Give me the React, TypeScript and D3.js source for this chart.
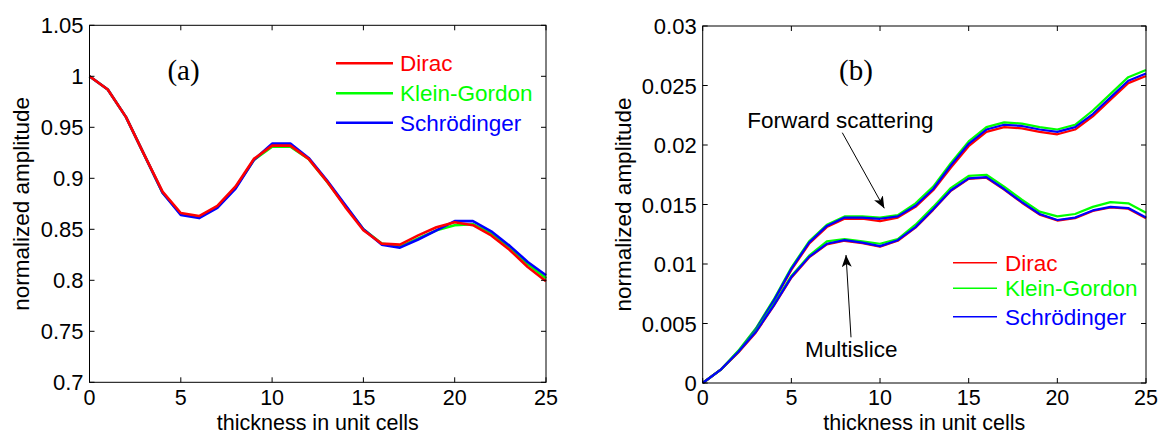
import React, { useEffect, useRef } from "react";
import * as d3 from "d3";

// thickness in unit cells (x)
const thickness = d3.range(0, 26);

// panel (a): normalized amplitude
const diracA = [1.0, 0.987, 0.96, 0.923, 0.887, 0.866, 0.863, 0.873, 0.892, 0.919, 0.932, 0.932, 0.919, 0.897, 0.872, 0.849, 0.836, 0.835, 0.844, 0.852, 0.857, 0.854, 0.844, 0.83, 0.813, 0.799];
const kleinA = [1.0, 0.987, 0.96, 0.923, 0.886, 0.865, 0.862, 0.872, 0.891, 0.918, 0.931, 0.931, 0.919, 0.897, 0.873, 0.85, 0.836, 0.833, 0.841, 0.849, 0.854, 0.855, 0.846, 0.832, 0.816, 0.802];
const schrA = [1.0, 0.987, 0.96, 0.923, 0.886, 0.864, 0.861, 0.871, 0.89, 0.918, 0.934, 0.934, 0.92, 0.898, 0.874, 0.85, 0.835, 0.832, 0.84, 0.849, 0.858, 0.858, 0.848, 0.834, 0.818, 0.805];

// panel (b): forward scattering
const diracFwd = [0, 0.0011, 0.00263, 0.00445, 0.00683, 0.0095, 0.0117, 0.0131, 0.0138, 0.0138, 0.0136, 0.0139, 0.0148, 0.0162, 0.0181, 0.0199, 0.0211, 0.0215, 0.0214, 0.0211, 0.0209, 0.0213, 0.0224, 0.0238, 0.0252, 0.0258];
const kleinFwd = [0, 0.0011, 0.0027, 0.0046, 0.007, 0.0097, 0.0119, 0.0133, 0.014, 0.014, 0.0139, 0.0141, 0.0151, 0.0165, 0.0185, 0.0203, 0.0215, 0.0219, 0.0218, 0.0215, 0.0213, 0.0217, 0.0229, 0.0243, 0.0257, 0.0263];
const schrFwd = [0, 0.0011, 0.0026, 0.0045, 0.0069, 0.0096, 0.0118, 0.0132, 0.0139, 0.0139, 0.0138, 0.014, 0.0149, 0.0163, 0.0183, 0.0201, 0.0213, 0.0217, 0.0216, 0.0213, 0.0211, 0.0215, 0.0226, 0.024, 0.0254, 0.026];

// panel (b): multislice
const diracMs = [0, 0.0011, 0.00255, 0.00425, 0.00645, 0.00885, 0.01055, 0.01165, 0.01195, 0.01175, 0.01145, 0.01195, 0.01305, 0.01455, 0.01615, 0.01715, 0.01725, 0.01625, 0.01515, 0.01415, 0.01365, 0.01385, 0.01445, 0.01475, 0.01465, 0.01385];
const kleinMs = [0, 0.0011, 0.0026, 0.0044, 0.0066, 0.009, 0.0107, 0.0119, 0.0121, 0.0119, 0.0117, 0.0121, 0.0133, 0.0148, 0.0164, 0.0174, 0.0175, 0.0165, 0.0154, 0.0144, 0.014, 0.0142, 0.0148, 0.0152, 0.0151, 0.0143];
const schrMs = [0, 0.0011, 0.0026, 0.0043, 0.0065, 0.0089, 0.0106, 0.0117, 0.012, 0.0118, 0.0115, 0.012, 0.0131, 0.0146, 0.0162, 0.0172, 0.0173, 0.0163, 0.0152, 0.0142, 0.0137, 0.0139, 0.0145, 0.0148, 0.0147, 0.0139];

const xTicks = [0, 5, 10, 15, 20, 25];
const yTicksA = [0.7, 0.75, 0.8, 0.85, 0.9, 0.95, 1, 1.05];
const yTicksB = [0, 0.005, 0.01, 0.015, 0.02, 0.025, 0.03];
const legendNames = ["Dirac", "Klein-Gordon", "Schrödinger"];
const colors = ["#ff0000", "#00ff00", "#0000ff"];

const FONT = "'Liberation Sans', Arial, Helvetica, sans-serif";

function drawAxes(g, x, y, yTicks, yFmt, yLabelX) {
  const [x0, x1] = x.range();
  const [y0, y1] = y.range();
  const tl = 5;

  g.append("rect")
    .attr("x", x0).attr("y", y1)
    .attr("width", x1 - x0).attr("height", y0 - y1)
    .attr("fill", "none").attr("stroke", "#000").attr("stroke-width", 1);

  xTicks.forEach(function (t) {
    const px = x(t);
    g.append("line").attr("x1", px).attr("x2", px).attr("y1", y0).attr("y2", y0 - tl).attr("stroke", "#000");
    g.append("line").attr("x1", px).attr("x2", px).attr("y1", y1).attr("y2", y1 + tl).attr("stroke", "#000");
    g.append("text")
      .attr("x", px).attr("y", 405)
      .attr("text-anchor", "middle")
      .style("font-family", FONT).style("font-size", "21.5px")
      .text(t);
  });

  yTicks.forEach(function (t) {
    const py = y(t);
    g.append("line").attr("x1", x0).attr("x2", x0 + tl).attr("y1", py).attr("y2", py).attr("stroke", "#000");
    g.append("line").attr("x1", x1).attr("x2", x1 - tl).attr("y1", py).attr("y2", py).attr("stroke", "#000");
    g.append("text")
      .attr("x", x0 - 6).attr("y", py + 8)
      .attr("text-anchor", "end")
      .style("font-family", FONT).style("font-size", "22px")
      .text(yFmt(t));
  });

  g.append("text")
    .attr("x", (x0 + x1) / 2).attr("y", 430)
    .attr("text-anchor", "middle")
    .style("font-family", FONT).style("font-size", "21.5px")
    .text("thickness in unit cells");

  g.append("text")
    .attr("transform", "translate(" + yLabelX + "," + (y0 + y1) / 2 + ") rotate(-90)")
    .attr("text-anchor", "middle")
    .style("font-family", FONT).style("font-size", "22.5px")
    .text("normalized amplitude");
}

function drawLegend(g, lx0, lx1, tx, ys, width) {
  legendNames.forEach(function (name, i) {
    g.append("line")
      .attr("x1", lx0).attr("x2", lx1).attr("y1", ys[i]).attr("y2", ys[i])
      .attr("stroke", colors[i]).attr("stroke-width", width);
    g.append("text")
      .attr("x", tx).attr("y", ys[i] + 8)
      .attr("fill", colors[i])
      .style("font-family", FONT).style("font-size", "22.5px")
      .text(name);
  });
}

export default function App() {
  const ref = useRef(null);

  useEffect(() => {
    const svg = d3.select(ref.current);
    svg.selectAll("*").remove();

    const defs = svg.append("defs");
    defs.append("marker")
      .attr("id", "arrowhead")
      .attr("viewBox", "0 0 12 10")
      .attr("refX", 12).attr("refY", 5)
      .attr("markerWidth", 12).attr("markerHeight", 10)
      .attr("markerUnits", "userSpaceOnUse")
      .attr("orient", "auto")
      .append("path")
      .attr("d", "M0,0 L12,5 L0,10 L3,5 Z")
      .attr("fill", "#000");

    // ---- panel (a)
    const xa = d3.scaleLinear().domain([0, 25]).range([89.5, 546]);
    const ya = d3.scaleLinear().domain([0.7, 1.05]).range([382.3, 25.3]);
    const ga = svg.append("g");

    const lineA = d3.line().x(function (d) { return xa(d[0]); }).y(function (d) { return ya(d[1]); });
    const seriesA = [
      { vals: kleinA, c: colors[1] },
      { vals: schrA, c: colors[2] },
      { vals: diracA, c: colors[0] },
    ];
    seriesA.forEach(function (s) {
      ga.append("path")
        .datum(thickness.map(function (t, i) { return [t, s.vals[i]]; }))
        .attr("d", lineA)
        .attr("fill", "none").attr("stroke", s.c).attr("stroke-width", 2.6)
        .attr("stroke-linejoin", "round");
    });

    drawAxes(ga, xa, ya, yTicksA, function (t) { return String(t); }, 29);
    drawLegend(ga, 336, 393, 400, [63.3, 93.3, 122.7], 2.6);

    ga.append("text")
      .attr("x", 183.5).attr("y", 80)
      .attr("text-anchor", "middle")
      .style("font-family", "'Liberation Serif', 'Times New Roman', serif").style("font-size", "29px")
      .text("(a)");

    // ---- panel (b)
    const xb = d3.scaleLinear().domain([0, 25]).range([702.7, 1146]);
    const yb = d3.scaleLinear().domain([0, 0.03]).range([383, 26]);
    const gb = svg.append("g");

    const lineB = d3.line().x(function (d) { return xb(d[0]); }).y(function (d) { return yb(d[1]); });
    const seriesB = [
      { vals: diracFwd, c: colors[0] },
      { vals: kleinFwd, c: colors[1] },
      { vals: schrFwd, c: colors[2] },
      { vals: diracMs, c: colors[0] },
      { vals: kleinMs, c: colors[1] },
      { vals: schrMs, c: colors[2] },
    ];
    seriesB.forEach(function (s) {
      gb.append("path")
        .datum(thickness.map(function (t, i) { return [t, s.vals[i]]; }))
        .attr("d", lineB)
        .attr("fill", "none").attr("stroke", s.c).attr("stroke-width", 2.2)
        .attr("stroke-linejoin", "round");
    });

    drawAxes(gb, xb, yb, yTicksB, function (t) { return String(t); }, 631);
    drawLegend(gb, 953, 997, 1005, [262.7, 288.3, 316.7], 1.4);

    gb.append("text")
      .attr("x", 856).attr("y", 80)
      .attr("text-anchor", "middle")
      .style("font-family", "'Liberation Serif', 'Times New Roman', serif").style("font-size", "29px")
      .text("(b)");

    gb.append("text")
      .attr("x", 747.3).attr("y", 128)
      .style("font-family", FONT).style("font-size", "22.5px")
      .text("Forward scattering");
    gb.append("line")
      .attr("x1", 842.3).attr("y1", 132.7).attr("x2", 884.3).attr("y2", 208.3)
      .attr("stroke", "#000").attr("stroke-width", 1)
      .attr("marker-end", "url(#arrowhead)");

    gb.append("text")
      .attr("x", 805).attr("y", 356.7)
      .style("font-family", FONT).style("font-size", "22.5px")
      .text("Multislice");
    gb.append("line")
      .attr("x1", 851).attr("y1", 337.3).attr("x2", 846).attr("y2", 255)
      .attr("stroke", "#000").attr("stroke-width", 1)
      .attr("marker-end", "url(#arrowhead)");
  }, []);

  return (
    <svg
      ref={ref}
      width={1161}
      height={435}
      style={{ position: "absolute", left: 0, top: 0, background: "#fff" }}
    />
  );
}
